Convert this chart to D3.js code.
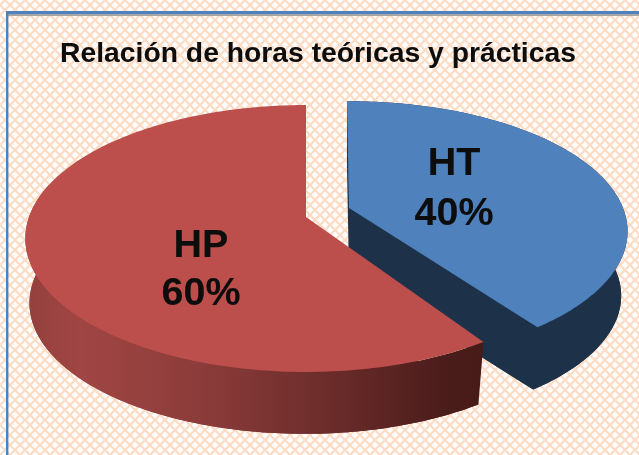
<!DOCTYPE html>
<html><head><meta charset="utf-8">
<script src="https://cdn.jsdelivr.net/npm/d3@7"></script>
<style>html,body{margin:0;padding:0;background:#fff}svg{display:block}</style>
</head><body><div id="c"></div>
<script>
// data
const categories = ["HT", "HP"];
const shares = [40, 60];
const chartTitle = "Relación de horas teóricas y prácticas";

// layout
const W = 639, H = 455;
const geom = {
  HT: {ax: 349, ay: 208, A: 274, B: 126, c: 0.18, from: -0.5, to: 0, lowDx: 0, shrink: 0.977},
  HP: {ax: 306, ay: 217, A: 277, B: 130, c: 0.161, from: 2.3, to: 0, lowDx: -1.5, shrink: 0.98}
};
const depth = 65;
const colours = {HT: "#4f81bd", HP: "#bc4f4c"};

const svg = d3.select("#c").append("svg").attr("width", W).attr("height", H);
const defs = svg.append("defs");

const tile = 10;
const pat = defs.append("pattern").attr("id", "lattice").attr("patternUnits", "userSpaceOnUse")
  .attr("width", tile).attr("height", tile);
pat.append("rect").attr("width", tile).attr("height", tile).attr("fill", "#fddcc5");
[[0,0],[tile,0],[0,tile],[tile,tile],[tile/2,tile/2]].forEach(([x,y]) => {
  pat.append("path").attr("d", `M${x-3.4},${y}L${x},${y-3.4}L${x+3.4},${y}L${x},${y+3.4}Z`).attr("fill", "#fff");
});
const blur = defs.append("filter").attr("id", "soft").attr("x","-5%").attr("y","-20%").attr("width","110%").attr("height","140%");
blur.append("feGaussianBlur").attr("stdDeviation", 0.5);
const bgBlur = defs.append("filter").attr("id", "bgsoft").attr("x","0").attr("y","0").attr("width","100%").attr("height","100%");
bgBlur.append("feGaussianBlur").attr("stdDeviation", 0.7);

const grad = defs.append("linearGradient").attr("id", "wallHP").attr("gradientUnits", "userSpaceOnUse")
  .attr("x1", 25).attr("x2", 485).attr("y1", 0).attr("y2", 0);
[[0,"#94403e"],[0.12,"#a04644"],[0.4,"#8a3b39"],[0.7,"#662a28"],[0.92,"#4a1c1a"],[1,"#471a18"]].forEach(([o,c]) =>
  grad.append("stop").attr("offset", o).attr("stop-color", c));

svg.append("rect").attr("width", W).attr("height", H).attr("fill", "url(#lattice)").attr("filter", "url(#bgsoft)");
svg.append("rect").attr("x", 6).attr("y", 11).attr("width", W - 6).attr("height", 3).attr("fill", "#4f81bd");
svg.append("rect").attr("x", 8).attr("y", 14).attr("width", W - 8).attr("height", 2).attr("fill", "#a6a6a6");
svg.append("rect").attr("x", 6).attr("y", 11).attr("width", 2.4).attr("height", H - 11).attr("fill", "#4f81bd");

const arcs = d3.pie().sort(null).value(d => d)(shares);
const deg = Math.PI / 180;

function project(g, a, low) {
  const u = Math.sin(a), v = -Math.cos(a), w = 1 - g.c * v;
  const k = low ? g.shrink : 1;
  return [g.ax + (low ? g.lowDx : 0) + k * g.A * u / w, g.ay + k * g.B * v / w + (low ? depth : 0)];
}
function rim(g, a0, a1, low) {
  const n = Math.max(2, Math.ceil(Math.abs(a1 - a0) / deg));
  return d3.range(n + 1).map(i => project(g, a0 + (a1 - a0) * i / n, low));
}
const line = d3.line().curve(d3.curveLinear);

const sliceData = arcs.map((d, i) => {
  const name = categories[i], g = geom[name];
  return {name, g, a0: d.startAngle + g.from * deg, a1: d.endAngle + g.to * deg};
});

const marks = svg.append("g");
// HT is drawn first, HP overlaps it.
sliceData.forEach(s => {
  const {name, g, a0, a1} = s;
  const apex = [g.ax, g.ay], low = [g.ax + g.lowDx, g.ay + depth];
  const topRim = rim(g, a0, a1, false), lowRim = rim(g, a0, a1, true);
  const wallFill = name === "HP" ? "url(#wallHP)" : "#1d3249";
  marks.append("path").attr("fill", wallFill).attr("d", line([low, ...lowRim]) + "Z");
  if (name === "HT") {
    marks.append("path").attr("fill", wallFill)
      .attr("d", line([apex, topRim[topRim.length - 1], lowRim[lowRim.length - 1], low]) + "Z");
    marks.append("path").attr("fill", wallFill)
      .attr("d", line([...topRim, ...[...lowRim].reverse()]) + "Z");
  } else {
    const wb = 285 * deg;
    marks.append("path").attr("fill", wallFill)
      .attr("d", line([...rim(g, a0, wb, false), ...rim(g, wb, a0, true)]) + "Z");
  }
  marks.append("path").attr("fill", colours[name]).attr("d", line([apex, ...topRim]) + "Z");
});

const label = svg.append("g").attr("filter", "url(#soft)").attr("font-family", "'Liberation Sans', Arial, sans-serif")
  .attr("font-weight", "bold").attr("fill", "#0a0a0a");
label.append("text").attr("x", 318).attr("y", 62).attr("text-anchor", "middle").attr("font-size", 28.3).text(chartTitle);
const labelPos = {HT: [454, 175, 225], HP: [201, 257, 305]};
sliceData.forEach((s, i) => {
  const [x, y1, y2] = labelPos[s.name];
  label.append("text").attr("x", x).attr("y", y1).attr("text-anchor", "middle").attr("font-size", 39.5).text(s.name);
  label.append("text").attr("x", x).attr("y", y2).attr("text-anchor", "middle").attr("font-size", 39.5)
    .text(d3.format("d")(arcs[i].value) + "%");
});
</script></body></html>
